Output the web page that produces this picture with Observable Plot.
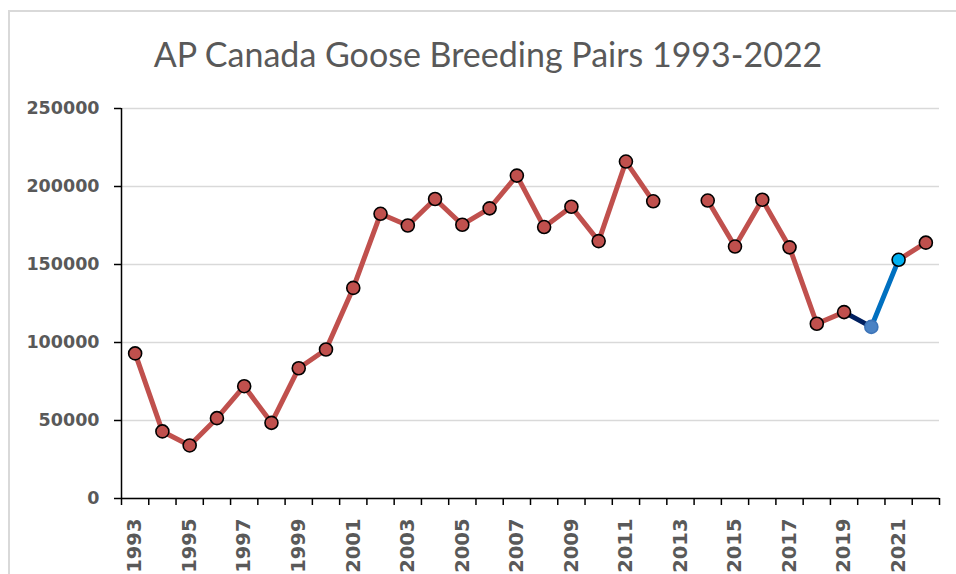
<!DOCTYPE html>
<html>
<head>
<meta charset="utf-8">
<script src="https://cdn.jsdelivr.net/npm/d3@7"></script>
<script src="https://cdn.jsdelivr.net/npm/@observablehq/plot@0.6"></script>
<style>
  html, body { margin: 0; padding: 0; background: #fff; }
  #wrap { position: relative; width: 956px; height: 574px; overflow: hidden; }
  #frame { position: absolute; left: 8px; top: 10px; width: 1000px; height: 700px;
           border-left: 2px solid #D9D9D9; border-top: 2px solid #D9D9D9; }
  #title { position: absolute; left: 0; width: 976px; top: 33px; text-align: center;
           font-family: Lato, "Open Sans", sans-serif; font-size: 34px; color: #595959; }
  #chart { position: absolute; left: 0; top: 0; }
</style>
</head>
<body>
<div id="wrap">
  <div id="frame"></div>
  <div id="chart"></div>
  <div id="title">AP Canada Goose Breeding Pairs 1993-2022</div>
</div>
<script>
const titleText = "AP Canada Goose Breeding Pairs 1993-2022";
const years = [1993,1994,1995,1996,1997,1998,1999,2000,2001,2002,2003,2004,2005,2006,2007,
               2008,2009,2010,2011,2012,2013,2014,2015,2016,2017,2018,2019,2020,2021,2022];
const pairs = [93000,43000,34000,51500,72000,48500,83500,95500,135000,182500,175000,192000,175500,186000,207000,
               174000,187000,165000,216000,190500,null,191000,161500,191500,161000,112000,119500,110000,153000,164000];
const yTicks = [0,50000,100000,150000,200000,250000];
const xLabelYears = [1993,1995,1997,1999,2001,2003,2005,2007,2009,2011,2013,2015,2017,2019,2021];

const baseColor = "#C0504D";
const highlightSegmentStarts = [2019, 2020];
const highlightSegmentColors = ["#002060", "#0070C0"];
const highlightPointYears = [2020, 2021];
const highlightPointFills = ["#4A82C4", "#00B0F0"];
const highlightPointStrokes = ["#3D74B8", "#000000"];

const xMin = years[0] - 0.5, xMax = years[years.length - 1] + 0.5;
const bandEdges = years.map(y => y - 0.5).concat([xMax]);

const segments = [];
for (let i = 0; i < years.length - 1; i++) {
  if (pairs[i] == null || pairs[i + 1] == null) continue;
  const h = highlightSegmentStarts.indexOf(years[i]);
  segments.push({x1: years[i], y1: pairs[i], x2: years[i + 1], y2: pairs[i + 1],
                 color: h >= 0 ? highlightSegmentColors[h] : baseColor});
}
const points = [];
years.forEach((y, i) => {
  if (pairs[i] == null) return;
  const h = highlightPointYears.indexOf(y);
  points.push({year: y, value: pairs[i],
               fill: h >= 0 ? highlightPointFills[h] : baseColor,
               stroke: h >= 0 ? highlightPointStrokes[h] : "#000000"});
});

const chart = Plot.plot({
  width: 956,
  height: 574,
  marginLeft: 121,
  marginRight: 17,
  marginTop: 108,
  marginBottom: 76,
  style: {fontFamily: "'DejaVu Sans', sans-serif", color: "#595959", background: "transparent"},
  x: {type: "linear", domain: [xMin, xMax]},
  y: {domain: [0, 250000]},
  marks: [
    Plot.gridY(yTicks, {stroke: "#D9D9D9", strokeOpacity: 1, strokeWidth: 1.5}),
    Plot.axisY({ticks: yTicks, tickSize: 7, tickPadding: 15, tickFormat: d => String(d),
                fontSize: 17.5, fontWeight: "bold", stroke: "#000", strokeWidth: 1.5, fill: "#595959", label: null}),
    Plot.axisX({ticks: bandEdges, tickSize: 7, tickFormat: () => "", stroke: "#000", strokeWidth: 1.5, label: null}),
    Plot.axisX({ticks: xLabelYears, tickSize: 0, tickPadding: 20, tickRotate: -90, tickFormat: d => String(d),
                fontSize: 19.5, fontWeight: "bold", fill: "#595959", label: null}),
    Plot.ruleX([xMin], {stroke: "#000", strokeWidth: 1.5}),
    Plot.ruleY([0], {stroke: "#000", strokeWidth: 1.5}),
    Plot.link(segments, {x1: "x1", y1: "y1", x2: "x2", y2: "y2", stroke: "color",
                         strokeWidth: 5, strokeLinecap: "round"}),
    Plot.dot(points, {x: "year", y: "value", r: 6.5, fill: "fill", stroke: "stroke", strokeWidth: 1.6})
  ]
});
document.getElementById("chart").appendChild(chart);
document.getElementById("title").textContent = titleText;
</script>
</body>
</html>
